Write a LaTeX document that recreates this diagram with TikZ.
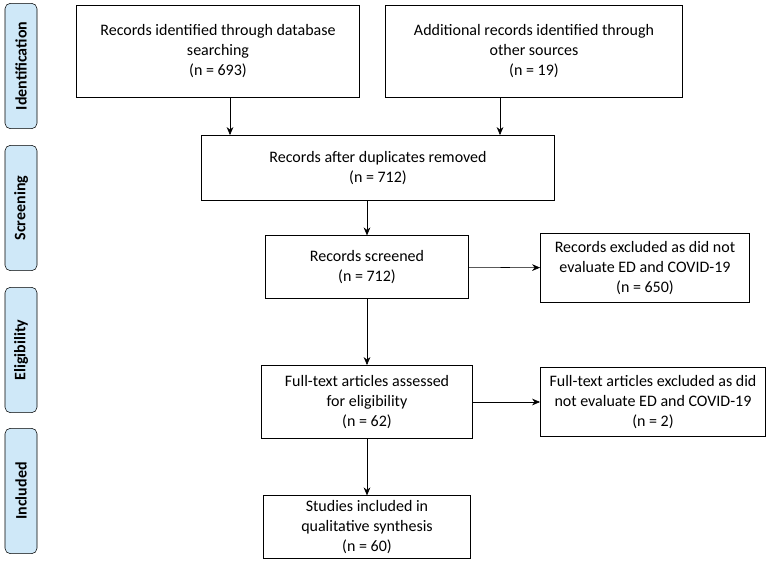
\documentclass[tikz,border=0pt]{standalone}
\usepackage{fontspec}
\setmainfont{Carlito}
\setsansfont{Carlito}
\usetikzlibrary{arrows.meta, positioning}
\definecolor{stageblue}{HTML}{CFE8F8}

\begin{document}
\begin{tikzpicture}[x=0.75pt, y=-0.75pt]

    % Sans-serif text
    \sffamily

    % Styles
    \tikzset{box/.style={draw, thin, align=center, inner sep=2pt, font=\fontsize{12}{14.8}\selectfont}}
    \tikzset{stage/.style={draw, rounded corners=4pt, fill=stageblue, rotate=90, minimum height=24pt, minimum width=94pt, font=\fontsize{12}{14}\selectfont\bfseries}}
    \tikzset{arr/.style={-{Stealth[length=6pt, width=5pt]}, thin}}

    \useasboundingbox (0,0) rectangle (781,560);

    % Stage labels
    \node (sI) [stage] at (21, 66) {Identification};
    \node (sS) [stage] at (21, 208) {Screening};
    \node (sE) [stage] at (21, 350) {Eligibility};
    \node (sN) [stage] at (21, 491) {Included};

    % Flow boxes
    \node (db) [box, minimum width=212pt, minimum height=69pt] at (218, 51) {Records identified through database\\searching\\(n = 693)};
    \node (oth) [box, minimum width=223pt, minimum height=69pt] at (534, 51) {Additional records identified through\\other sources\\(n = 19)};
    \node (dup) [box, minimum width=265pt, minimum height=49pt] at (378, 168) {Records after duplicates removed\\(n = 712)};
    \node (scr) [box, minimum width=152pt, minimum height=47pt] at (367, 267) {Records screened\\(n = 712)};
    \node (exc) [box, minimum width=157pt, minimum height=52pt] at (645, 268) {Records excluded as did not\\evaluate ED and COVID-19\\(n = 650)};
    \node (full) [box, minimum width=158pt, minimum height=55pt] at (367, 402) {Full-text articles assessed\\for eligibility\\(n = 62)};
    \node (fexc) [box, minimum width=169pt, minimum height=52pt] at (653, 402) {Full-text articles excluded as did\\not evaluate ED and COVID-19\\(n = 2)};
    \node (inc) [box, minimum width=155pt, minimum height=47pt] at (367, 527) {Studies included in\\qualitative synthesis\\(n = 60)};

    % Connectors
    \draw[arr] (db.south -| 230,0) -- (dup.north -| 230,0);
    \draw[arr] (oth.south -| 500,0) -- (dup.north -| 500,0);
    \draw[arr] (dup.south -| scr) -- (scr);
    \draw[arr] (scr) -- (full);
    \draw[arr] (full) -- (inc);
    \draw[arr] (scr) -- (exc);
    \draw[arr] (full) -- (fexc);

\end{tikzpicture}
\end{document}
